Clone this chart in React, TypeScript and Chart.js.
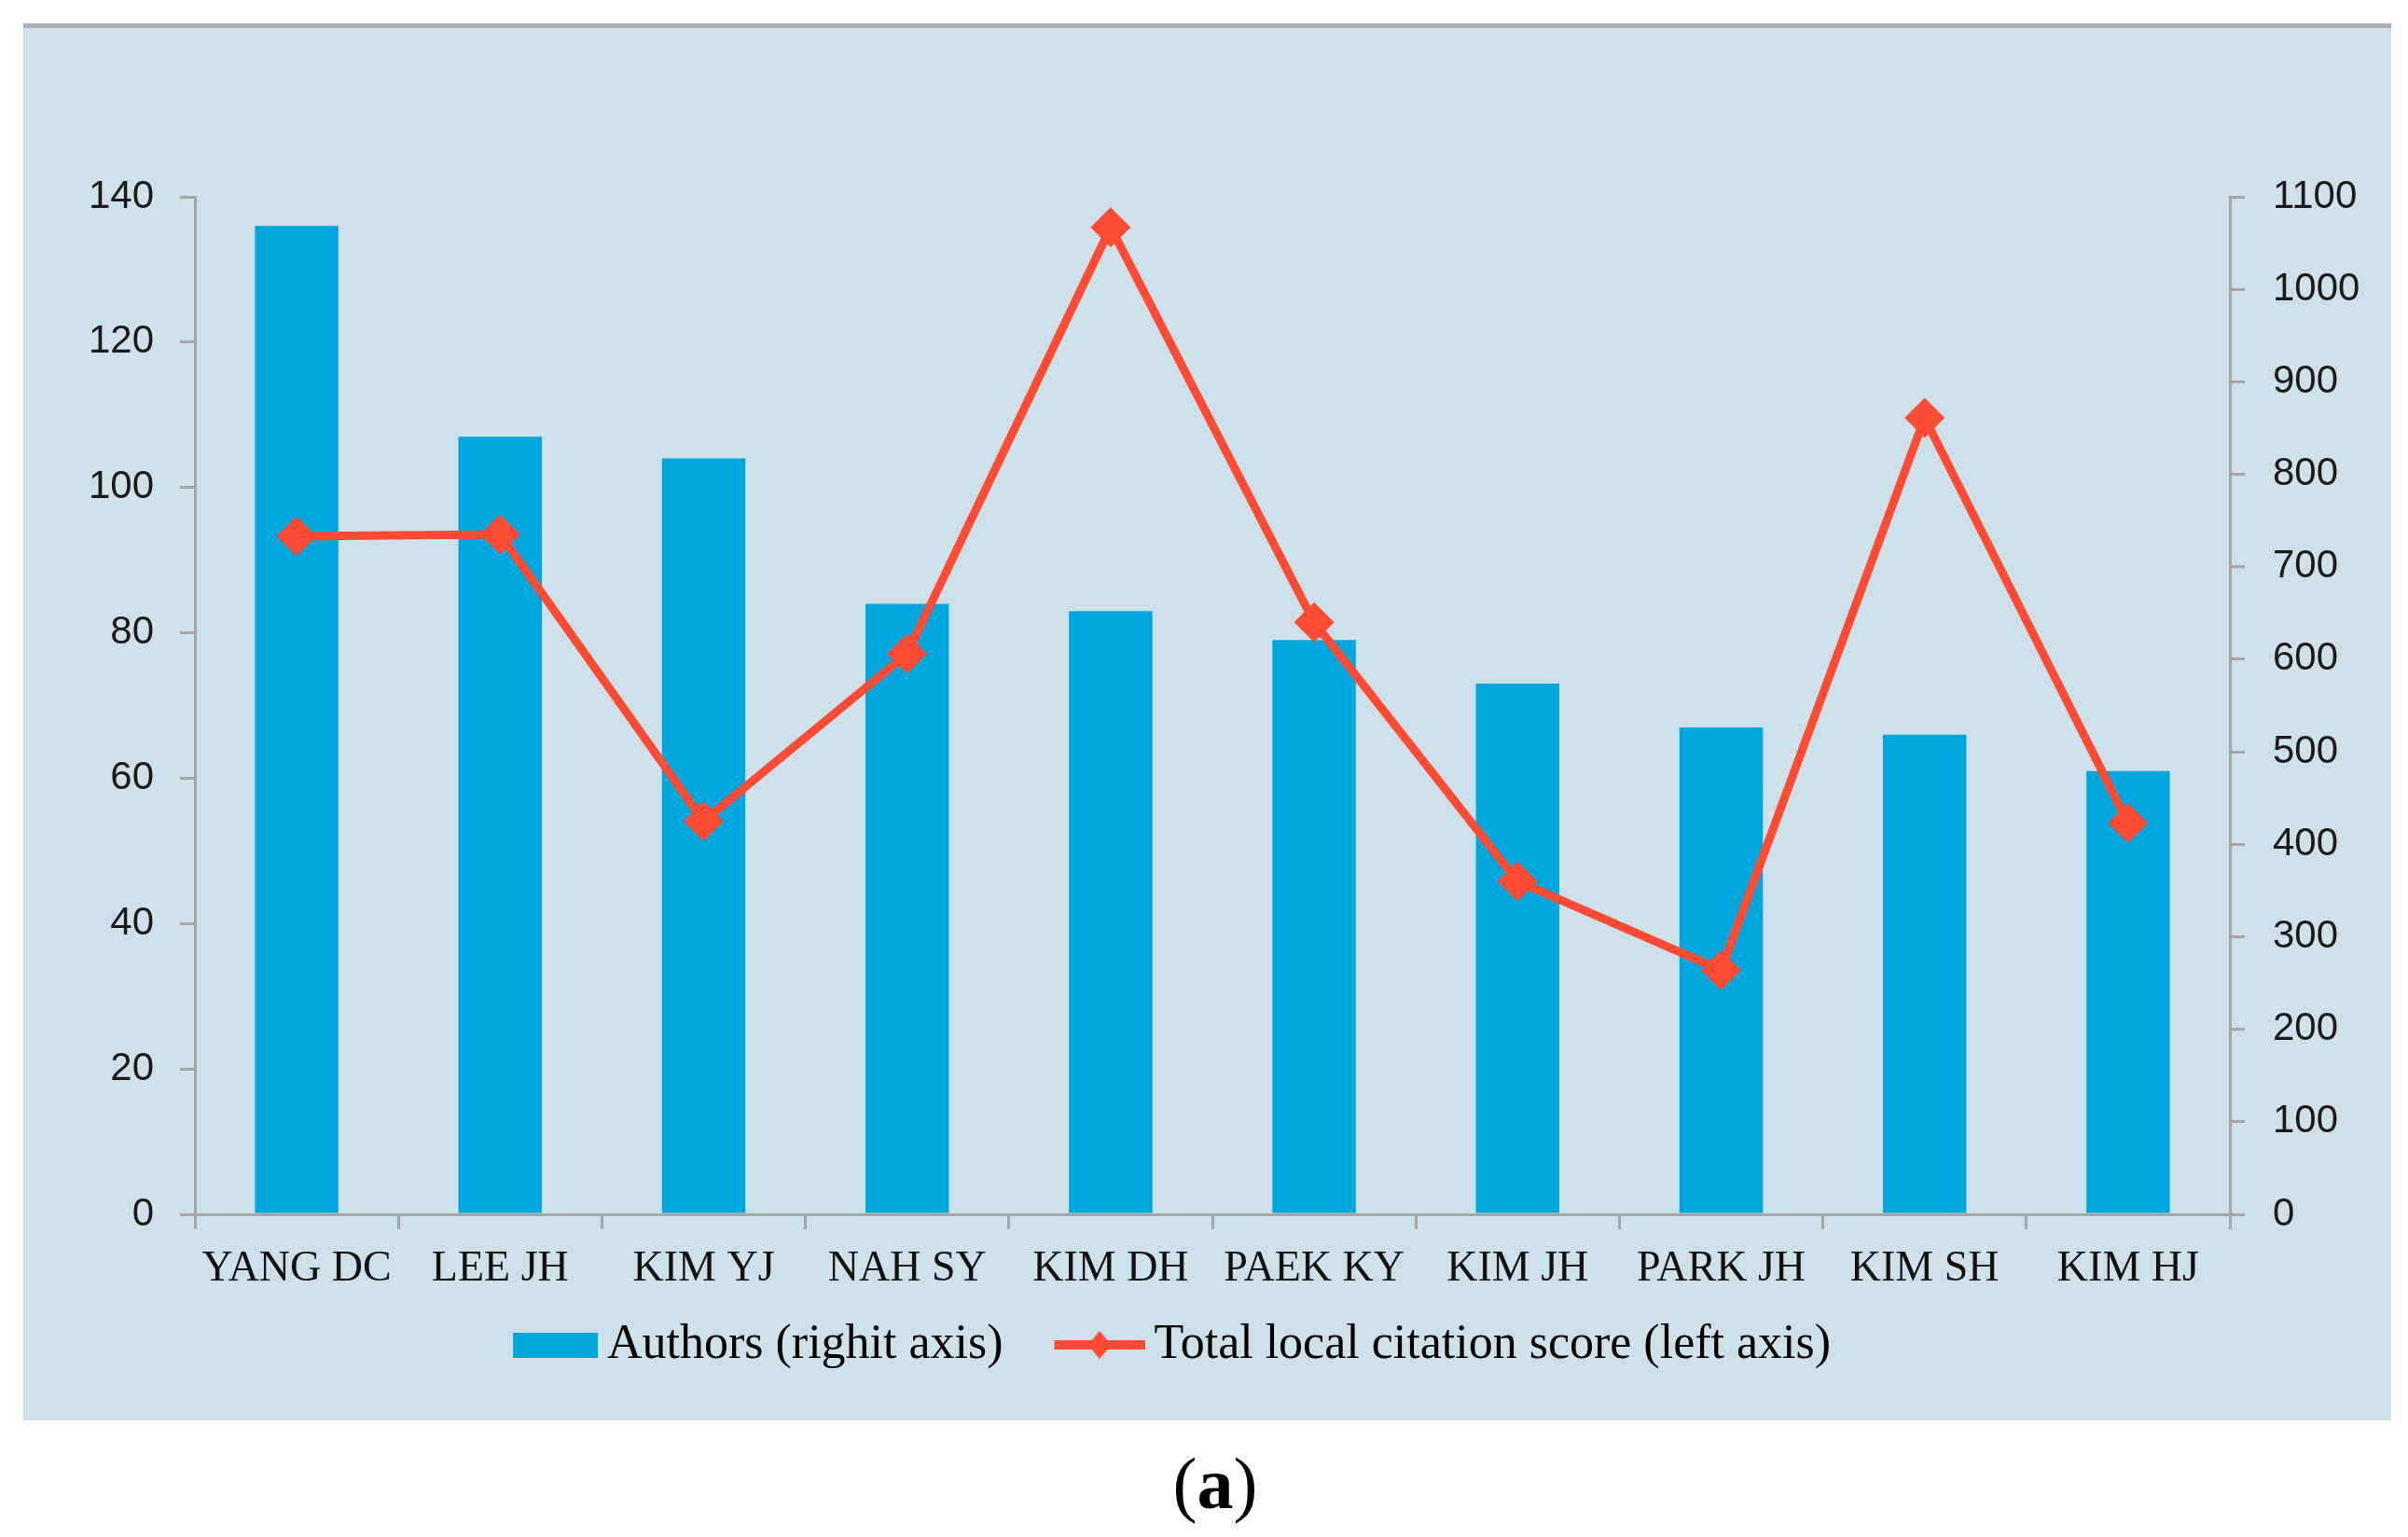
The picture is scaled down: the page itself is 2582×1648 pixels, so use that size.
import { useEffect, useRef } from "react";
import { Chart, registerables } from "chart.js";

Chart.register(...registerables);

const authorNames = [
  "YANG DC",
  "LEE JH",
  "KIM YJ",
  "NAH SY",
  "KIM DH",
  "PAEK KY",
  "KIM JH",
  "PARK JH",
  "KIM SH",
  "KIM HJ",
];
const authorCounts = [136, 107, 104, 84, 83, 79, 73, 67, 66, 61];
const citationScores = [733, 735, 425, 606, 1067, 640, 360, 264, 861, 423];
const leftTicks = [0, 20, 40, 60, 80, 100, 120, 140];
const rightTicks = [0, 100, 200, 300, 400, 500, 600, 700, 800, 900, 1000, 1100];

const BAR_COLOR = "#00a6de";
const LINE_COLOR = "#fd4b34";
const AXIS_COLOR = "#a6a6a6";
const SERIF = "'Liberation Serif', 'Times New Roman', serif";
const SANS = "'Liberation Sans', Arial, sans-serif";

// legend swatches: visible mark sits at the right end of a wider transparent image
const SWATCH_W = 148;

function makeBarSwatch() {
  const c = document.createElement("canvas");
  c.width = SWATCH_W;
  c.height = 27;
  const g = c.getContext("2d")!;
  g.fillStyle = BAR_COLOR;
  g.fillRect(SWATCH_W - 91, 0, 91, 27);
  return c;
}

function makeLineSwatch() {
  const c = document.createElement("canvas");
  c.width = SWATCH_W;
  c.height = 32;
  const g = c.getContext("2d")!;
  const x0 = SWATCH_W - 97;
  const cx = x0 + 48.5;
  g.fillStyle = LINE_COLOR;
  g.fillRect(x0, 11, 97, 10);
  g.beginPath();
  g.moveTo(cx, 1);
  g.lineTo(cx + 12.5, 16);
  g.lineTo(cx, 31);
  g.lineTo(cx - 12.5, 16);
  g.closePath();
  g.fill();
  return c;
}

export default function App() {
  const canvasRef = useRef<HTMLCanvasElement | null>(null);
  const chartRef = useRef<Chart | null>(null);

  useEffect(() => {
    document.body.style.margin = "0";
    if (!canvasRef.current) return;
    const ctx = canvasRef.current.getContext("2d");
    if (!ctx) return;
    if (chartRef.current) chartRef.current.destroy();

    const barSwatch = makeBarSwatch();
    const lineSwatch = makeLineSwatch();

    chartRef.current = new Chart(ctx, {
      type: "bar",
      data: {
        labels: authorNames,
        datasets: [
          {
            type: "line",
            label: "Total local citation score (left axis)",
            data: citationScores,
            yAxisID: "y1",
            borderColor: LINE_COLOR,
            borderWidth: 9,
            pointStyle: "rectRot",
            pointRadius: 21,
            pointBackgroundColor: LINE_COLOR,
            pointBorderColor: LINE_COLOR,
            pointBorderWidth: 1,
            tension: 0,
            order: 0,
          },
          {
            type: "bar",
            label: "Authors (righit axis)",
            data: authorCounts,
            yAxisID: "y",
            backgroundColor: BAR_COLOR,
            categoryPercentage: 1,
            barPercentage: 0.41,
            order: 1,
          },
        ],
      } as any,
      options: {
        animation: false,
        responsive: true,
        maintainAspectRatio: false,
        layout: { padding: { top: 181, left: 0, right: 0, bottom: 45 } },
        plugins: {
          tooltip: { enabled: false },
          legend: {
            position: "bottom",
            align: "center",
            labels: {
              usePointStyle: true,
              pointStyleWidth: 116,
              padding: 20,
              color: "#111",
              font: { family: SERIF, size: 52 },
              generateLabels: () => [
                {
                  text: "Authors (righit axis)",
                  pointStyle: barSwatch,
                  datasetIndex: 1,
                  hidden: false,
                  lineWidth: 0,
                  fillStyle: "transparent",
                  strokeStyle: "transparent",
                },
                {
                  // trailing spaces keep the legend block off-centre like the original
                  text: "Total local citation score (left axis)         ",
                  pointStyle: lineSwatch,
                  datasetIndex: 0,
                  hidden: false,
                  lineWidth: 0,
                  fillStyle: "transparent",
                  strokeStyle: "transparent",
                },
              ],
            },
          },
        },
        scales: {
          x: {
            offset: true,
            afterFit: (scale: any) => {
              scale.height = 94;
            },
            grid: {
              offset: true,
              drawOnChartArea: false,
              drawTicks: true,
              tickLength: 16,
              color: AXIS_COLOR,
              lineWidth: 3,
            },
            border: { display: true, color: AXIS_COLOR, width: 3 },
            ticks: {
              padding: 15,
              color: "#111",
              maxRotation: 0,
              autoSkip: false,
              font: { family: SERIF, size: 46 },
            },
          },
          y: {
            position: "left",
            min: 0,
            max: 140,
            afterFit: (scale: any) => {
              scale.width = 184;
            },
            afterBuildTicks: (scale: any) => {
              scale.ticks = leftTicks.map((v) => ({ value: v }));
            },
            grid: {
              drawOnChartArea: false,
              drawTicks: true,
              tickLength: 16,
              color: AXIS_COLOR,
              lineWidth: 3,
            },
            border: { display: true, color: AXIS_COLOR, width: 3 },
            ticks: {
              padding: 28,
              color: "#1a1a1a",
              font: { family: SANS, size: 42 },
              callback: (v: any) => String(v),
            },
          },
          y1: {
            position: "right",
            min: 0,
            max: 1100,
            afterFit: (scale: any) => {
              scale.width = 173;
            },
            afterBuildTicks: (scale: any) => {
              scale.ticks = rightTicks.map((v) => ({ value: v }));
            },
            grid: {
              drawOnChartArea: false,
              drawTicks: true,
              tickLength: 16,
              color: AXIS_COLOR,
              lineWidth: 3,
            },
            border: { display: true, color: AXIS_COLOR, width: 3 },
            ticks: {
              padding: 30,
              color: "#1a1a1a",
              font: { family: SANS, size: 42 },
              callback: (v: any) => String(v),
            },
          },
        },
      } as any,
    });

    return () => {
      if (chartRef.current) {
        chartRef.current.destroy();
        chartRef.current = null;
      }
    };
  }, []);

  return (
    <div
      style={{
        position: "absolute",
        left: 0,
        top: 0,
        width: 2582,
        height: 1648,
        background: "#ffffff",
        overflow: "hidden",
      }}
    >
      <div
        style={{
          position: "absolute",
          left: 25,
          top: 25,
          width: 2539,
          height: 1493,
          borderTop: "5px solid #a9afb2",
          background: "#cde1ea",
        }}
      >
        <canvas ref={canvasRef} style={{ width: "100%", height: "100%" }}></canvas>
      </div>
      <div
        style={{
          position: "absolute",
          left: 12,
          top: 1550,
          width: 2582,
          textAlign: "center",
          fontFamily: SERIF,
          fontSize: 78,
          lineHeight: "82px",
          color: "#000",
        }}
      >
        (<b>a</b>)
      </div>
    </div>
  );
}
